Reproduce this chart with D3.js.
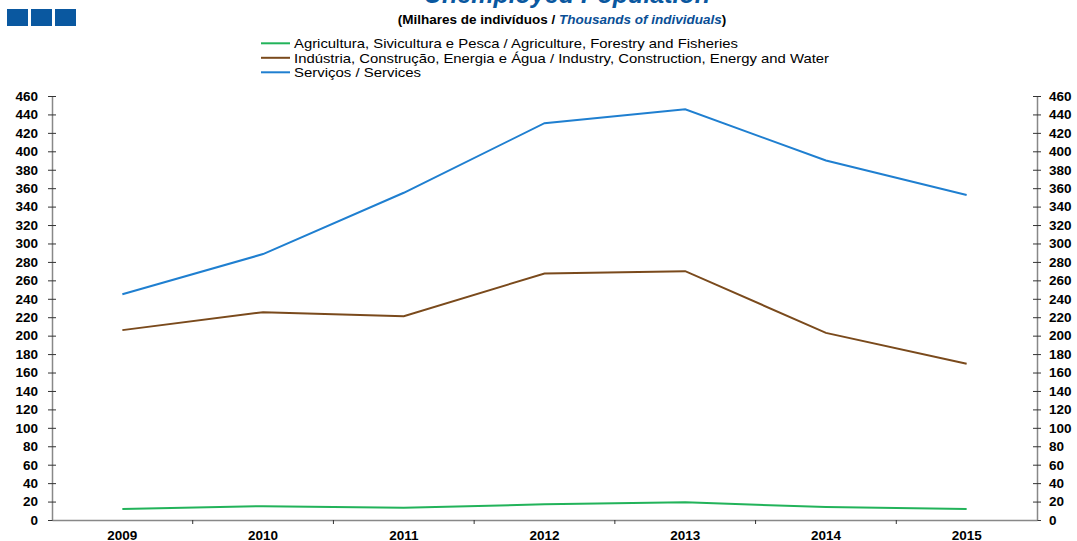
<!DOCTYPE html>
<html><head><meta charset="utf-8">
<script src="https://cdn.jsdelivr.net/npm/d3@7"></script>
<style>
body{margin:0;background:#fff;}
svg{display:block;font-family:"Liberation Sans",Arial,sans-serif;}
</style></head>
<body>
<svg id="c" width="1077" height="541"></svg>
<script>
const years = ["2009","2010","2011","2012","2013","2014","2015"];
const agriculture = [12, 15, 13.3, 17, 19.3, 14, 12];
const industry = [206, 225.5, 221, 267.5, 270, 203, 169.5];
const services = [245, 288.5, 355, 430.5, 445.5, 390, 352.5];
const yTicks = d3.range(0, 461, 20);
const seriesNames = [
  "Agricultura, Sivicultura e Pesca / Agriculture, Forestry and Fisheries",
  "Indústria, Construção, Energia e Água / Industry, Construction, Energy and Water",
  "Serviços / Services"
];
const seriesColors = ["#22b35a", "#7a4a1c", "#1f7fd0"];
const seriesData = [agriculture, industry, services];

(function(){
const svg = d3.select("#c");
const mLeft = 52, mRight = 1037, mTop = 96, mBottom = 520;
const x = d3.scaleBand().domain(years).range([mLeft, mRight]);
const y = d3.scaleLinear().domain([0, 460]).range([mBottom, mTop]);

// logo
const logo = [0,1,2];
svg.selectAll("rect.logo").data(logo).enter().append("rect")
  .attr("x", d => 7 + d*24).attr("y", 9).attr("width", 21).attr("height", 17)
  .attr("fill", "#0a58a0");

// title (cut off at the top edge, as in the reference)
svg.append("text").attr("x", 567).attr("y", 3).attr("text-anchor","middle")
  .attr("font-size", 25).attr("font-weight","bold").attr("font-style","italic")
  .attr("fill","#0a58a0").text("Unemployed Population");
const sub = svg.append("text").attr("x", 562).attr("y", 24).attr("text-anchor","middle")
  .attr("font-size", 13.5).attr("font-weight","bold").attr("fill","#000");
sub.append("tspan").text("(Milhares de indivíduos  / ");
sub.append("tspan").attr("fill","#0a4f96").attr("font-style","italic").text("Thousands of individuals");
sub.append("tspan").text(")");

// legend
const lg = svg.append("g");
const legendWidths = [444, 535, 127];
seriesNames.forEach((n,i) => {
  const yy = 43.3 + i*14.5;
  lg.append("line").attr("x1",261).attr("x2",290).attr("y1",yy).attr("y2",yy)
    .attr("stroke",seriesColors[i]).attr("stroke-width",2);
  lg.append("text").attr("x",294).attr("y",yy+4.8).attr("font-size",13.5)
    .attr("textLength", legendWidths[i]).attr("lengthAdjust","spacingAndGlyphs")
    .attr("fill","#000").text(n);
});

// axes
const axisColor = "#888";
const yl = svg.append("g").attr("transform",`translate(${mLeft},0)`)
  .call(d3.axisLeft(y).tickValues(yTicks).tickSize(0).tickPadding(14));
const yr = svg.append("g").attr("transform",`translate(${mRight},0)`)
  .call(d3.axisRight(y).tickValues(yTicks).tickSize(0).tickPadding(12));
[yl, yr].forEach(g => {
  g.select(".domain").attr("stroke",axisColor).attr("stroke-width",1.5);
  g.selectAll(".tick").append("line").attr("x1",-4).attr("x2",4).attr("stroke","#333");
  g.selectAll("text").attr("font-size",13.5).attr("font-weight","bold")
    .attr("font-family","'Liberation Sans',Arial,sans-serif").attr("fill","#000");
});

const xa = svg.append("g").attr("transform",`translate(0,${mBottom})`)
  .call(d3.axisBottom(x).tickSize(0).tickPadding(10));
xa.select(".domain").attr("stroke",axisColor).attr("stroke-width",1.5);
xa.selectAll("text").attr("font-size",13.5).attr("font-weight","bold")
  .attr("font-family","'Liberation Sans',Arial,sans-serif").attr("fill","#000");
const bounds = years.slice(1).map(v => x(v));
xa.selectAll("line.b").data(bounds).enter().append("line")
  .attr("x1",d=>d).attr("x2",d=>d).attr("y1",0).attr("y2",4).attr("stroke","#333");

// lines
const line = d3.line().x((d,i) => x(years[i]) + x.bandwidth()/2).y(d => y(d));
seriesData.forEach((s,i) => {
  svg.append("path").datum(s).attr("d", line).attr("fill","none")
    .attr("stroke", seriesColors[i]).attr("stroke-width", 2);
});
})();
</script>
</body></html>
